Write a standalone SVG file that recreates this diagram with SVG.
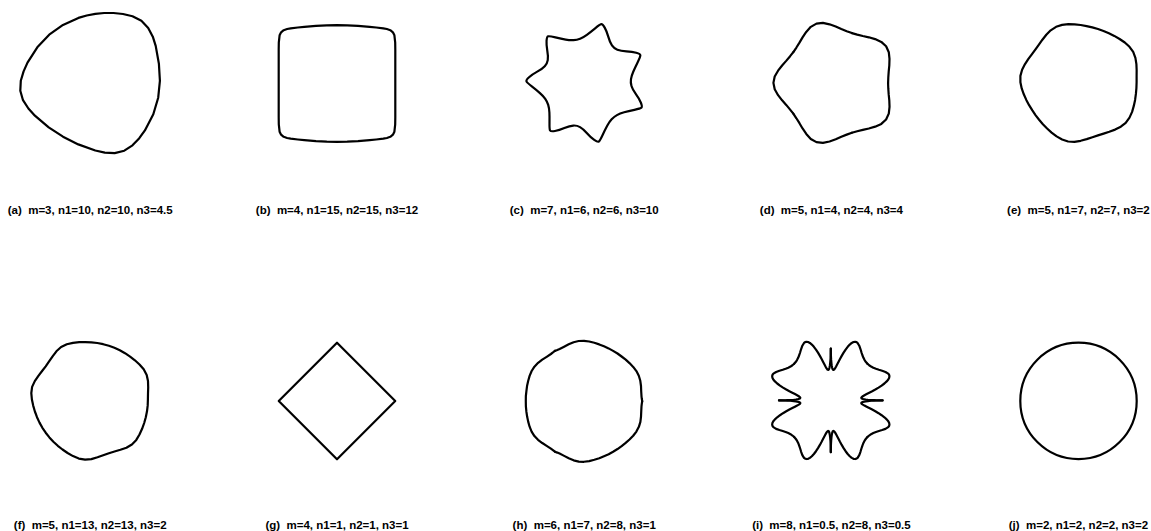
<svg xmlns="http://www.w3.org/2000/svg" width="1151" height="531" viewBox="0 0 1151 531">
<style>
.c{fill:none;stroke:#000;stroke-width:2.2;stroke-linejoin:round;stroke-linecap:round}
.l{font-family:"Liberation Sans",Arial,sans-serif;font-size:11.5px;font-weight:bold;fill:#000;text-anchor:middle;white-space:pre}
</style>
<defs>
<path id="dseg" class="c" d="M888.1,82.9 L888.3,77.4 888.7,71.6 889.3,65.5 889.5,58.9 888.8,52.2 886.1,46.3 881.3,41.9 875.1,39.1 868.8,37.3 862.8,36.0 857.2,34.6 851.9,33.1"/>
<path id="hseg" class="c" d="M642.25,401.3 L641.8,398.8 641.5,396.3 641.2,391.2 641.0,386.0 640.3,380.8 638.8,375.7 636.4,371.1 633.2,366.9 629.5,363.1 625.7,359.6 621.6,356.5 617.5,353.5 613.1,350.9 608.6,348.4 604.0,346.3 599.2,344.4 594.3,342.8 589.2,341.5 584.0,340.8 578.7,341.0 573.6,342.2 568.7,344.3 564.1,346.7 559.6,349.0 557.3,350.0 554.9,350.9"/>
<path id="iseg" class="c" d="M51.8,0 L45.58,-0.10 43.36,-0.19 40.51,-0.35 37.08,-0.65 34.90,-0.91 32.33,-1.41 30.82,-2.02 30.46,-2.67 30.92,-3.39 32.02,-4.22 33.68,-5.18 35.86,-6.32 38.46,-7.65 41.40,-9.18 44.53,-10.90 47.77,-12.80 50.82,-14.81 53.60,-16.90 55.87,-18.97 57.49,-20.92 58.40,-22.71 58.63,-24.29 58.27,-25.64 57.41,-26.77 54.67,-28.46 51.36,-29.66 48.10,-30.64 45.15,-31.62 42.53,-32.64 40.28,-33.80 38.35,-35.14 36.63,-36.63"/>
</defs>
<rect width="1151" height="531" fill="#fff"/>

<g id="shape-a">
<polygon class="c" points="159.9,80.8 158.9,63.8 155.7,45.9 152.8,36.7 148.2,27.9 141.4,20.8 132.5,16.3 123.0,14.0 113.5,13.0 104.2,13.0 95.3,13.9 86.7,15.5 78.4,17.9 63.0,24.9 49.2,34.7 37.3,47.3 27.5,62.6 23.6,71.4 20.8,80.8 20.3,90.7 23.0,100.2 28.4,108.5 34.9,115.7 48.7,127.4 63.0,136.7 78.3,144.4 95.3,150.5 104.8,152.6 114.7,153.1 124.3,150.7 132.5,145.3 139.3,138.2 144.9,130.4 153.3,114.3 158.2,97.7"/>
<text class="l" x="90.2" y="214">(a)  m=3, n1=10, n2=10, n3=4.5</text>
</g>

<g id="shape-b">
<polygon class="c" points="395.3,83.5 395.3,73.2 395.3,62.3 395.3,49.8 395.2,42.7 394.4,35.3 392.9,32.3 390.3,30.2 386.9,29.0 383.3,28.3 376.2,27.5 369.7,26.9 358.0,25.9 347.2,25.4 337,25.2 326.8,25.4 316.0,25.9 304.3,26.9 297.8,27.5 290.7,28.3 287.1,29.0 283.7,30.2 281.1,32.3 279.6,35.3 278.8,42.7 278.7,49.8 278.7,62.3 278.7,73.2 278.7,83.5 278.7,93.8 278.7,104.7 278.7,117.2 278.8,124.3 279.6,131.7 281.1,134.7 283.7,136.8 287.1,138.0 290.7,138.7 297.8,139.5 304.3,140.1 316.0,141.1 326.8,141.6 337,141.8 347.2,141.6 358.0,141.1 369.7,140.1 376.2,139.5 383.3,138.7 386.9,138.0 390.3,136.8 392.9,134.7 394.4,131.7 395.2,124.3 395.3,117.2 395.3,104.7 395.3,93.8"/>
<text class="l" x="337" y="214">(b)  m=4, n1=15, n2=15, n3=12</text>
</g>

<g id="shape-c">
<path class="c" d="M631.475,86.05 Q630.45,82.6 630.975,79.2 Q631.5,75.8 633.25,71.75 Q635.0,67.7 637.7,62.2 Q640.4,56.7 640.35,55.3 Q640.3,53.9 636.25,52.75 Q632.2,51.6 626.45,51.3 Q620.7,51.0 617.35,49.7 Q614.0,48.4 611.95,45.4 Q609.9,42.4 608.35,36.85 Q606.8,31.3 604.7,27.6 Q602.6,23.9 601.25,24.15 Q599.9,24.4 595.15,28.3 Q590.4,32.2 586.85,34.8 Q583.3,37.4 580.1,38.65 Q576.9,39.9 573.5,40.15 Q570.1,40.4 565.75,39.6 Q561.4,38.8 555.4,37.35 Q549.4,35.9 548.1,36.3 Q546.8,36.7 546.55,40.9 Q546.3,45.1 547.3,50.8 Q548.3,56.5 547.75,60.05 Q547.2,63.6 544.75,66.25 Q542.3,68.9 537.25,71.65 Q532.2,74.4 529.05,77.25 Q525.9,80.1 526.45,81.35 Q527.0,82.6 531.8,86.35 Q536.6,90.1 539.95,93.05 Q543.3,96.0 545.25,98.8 Q547.2,101.6 548.2,104.85 Q549.2,108.1 549.4,112.55 Q549.6,117.0 549.5,123.15 Q549.4,129.3 550.1,130.5 Q550.8,131.7 554.95,131.0 Q559.1,130.3 564.4,128.05 Q569.7,125.8 573.3,125.55 Q576.9,125.3 580.05,127.1 Q583.2,128.9 587.0,133.2 Q590.8,137.5 594.25,139.95 Q597.7,142.4 598.8,141.6 Q599.9,140.8 602.5,135.25 Q605.1,129.7 607.2,125.8 Q609.3,121.9 611.65,119.35 Q614.0,116.8 616.95,115.1 Q619.9,113.4 624.15,112.25 Q628.4,111.1 634.4,109.8 Q640.4,108.5 641.45,107.6 Q642.5,106.7 640.9,102.75 Q639.3,98.8 635.9,94.15 Q632.5,89.5 631.475,86.05 Z"/>
<text class="l" x="584.2" y="214">(c)  m=7, n1=6, n2=6, n3=10</text>
</g>

<g id="shape-d">
<use href="#dseg"/>
<use href="#dseg" transform="rotate(-72 835.7 82.9)"/>
<use href="#dseg" transform="rotate(-144 835.7 82.9)"/>
<use href="#dseg" transform="rotate(-216 835.7 82.9)"/>
<use href="#dseg" transform="rotate(-288 835.7 82.9)"/>
<text class="l" x="831.4" y="214">(d)  m=5, n1=4, n2=4, n3=4</text>
</g>

<g id="shape-e">
<polygon class="c" points="1136.6,82.2 1136.6,76.3 1136.65,70.3 1136.4,64.1 1135.4,57.8 1133.2,51.9 1129.5,46.8 1124.8,42.5 1119.6,39.0 1114.3,35.9 1108.9,33.3 1103.5,31.0 1098.0,29.0 1092.3,27.4 1086.6,26.1 1080.7,25.0 1074.6,24.4 1068.4,24.2 1062.1,24.9 1056.1,26.8 1050.7,30.3 1046.3,34.8 1042.4,39.7 1038.9,44.6 1035.5,49.3 1032.0,54.1 1028.4,58.9 1025.0,64.1 1022.1,69.7 1020.4,75.9 1020.4,82.2 1021.7,88.4 1023.8,94.3 1026.3,99.9 1029.1,105.2 1032.2,110.2 1035.5,115.1 1039.1,119.7 1042.9,124.2 1047.1,128.5 1051.6,132.6 1056.6,136.4 1062.1,139.5 1068.1,141.5 1074.4,141.8 1080.7,140.8 1086.7,139.1 1092.4,137.2 1098.0,135.4 1103.6,133.6 1109.3,131.7 1115.1,129.6 1120.8,126.7 1125.7,122.8 1129.5,117.6 1132.1,111.9 1133.8,105.9 1135.1,99.9 1135.9,93.9 1136.4,88.1"/>
<text class="l" x="1078.4" y="214">(e)  m=5, n1=7, n2=7, n3=2</text>
</g>

<g id="shape-f">
<polygon class="c" points="147.9,399.5 148.0,393.6 148.2,387.4 148.0,381.1 146.7,374.9 143.7,369.3 139.5,364.5 134.9,360.3 130.1,356.6 125.0,353.2 119.8,350.3 114.4,347.8 108.9,345.8 103.2,344.2 97.3,343.0 91.4,342.3 85.4,342.1 79.2,342.2 73.0,342.9 66.8,344.3 61.1,347.0 56.4,351.3 52.6,356.4 49.1,361.4 45.7,366.3 42.1,371.0 38.4,375.9 34.8,381.1 32.1,386.9 31.3,393.2 31.9,399.5 33.2,405.6 34.9,411.5 37.0,417.2 39.5,422.6 42.4,427.8 45.7,432.7 49.4,437.4 53.4,441.7 57.8,445.8 62.5,449.5 67.6,453.0 73.0,456.1 78.8,458.6 85.1,459.7 91.4,459.1 97.5,457.2 103.2,455.2 108.9,453.2 114.5,451.5 120.4,449.8 126.4,447.7 131.9,444.5 136.3,439.9 139.5,434.5 142.1,428.8 144.2,423.0 145.8,417.2 147.0,411.3 147.7,405.4"/>
<text class="l" x="90.2" y="528.5">(f)  m=5, n1=13, n2=13, n3=2</text>
</g>

<g id="shape-g">
<polygon class="c" points="337,342.75 395.25,401 337,459.25 278.75,401"/>
<text class="l" x="337" y="528.5">(g)  m=4, n1=1, n2=1, n3=1</text>
</g>

<g id="shape-h">
<use href="#hseg"/>
<use href="#hseg" transform="rotate(-120 584 401.3)"/>
<use href="#hseg" transform="rotate(-240 584 401.3)"/>
<text class="l" x="584.2" y="528.5">(h)  m=6, n1=7, n2=8, n3=1</text>
</g>

<g id="shape-i">
<g transform="translate(830.8,400.4)">
<use href="#iseg"/>
<use href="#iseg" transform="matrix(0,-1,-1,0,0,0)"/>
<use href="#iseg" transform="rotate(-90)"/>
<use href="#iseg" transform="rotate(-90) matrix(0,-1,-1,0,0,0)"/>
<use href="#iseg" transform="rotate(180)"/>
<use href="#iseg" transform="rotate(180) matrix(0,-1,-1,0,0,0)"/>
<use href="#iseg" transform="rotate(90)"/>
<use href="#iseg" transform="rotate(90) matrix(0,-1,-1,0,0,0)"/>
</g>
<text class="l" x="831.4" y="528.5">(i)  m=8, n1=0.5, n2=8, n3=0.5</text>
</g>

<g id="shape-j">
<circle class="c" cx="1078.5" cy="400.9" r="58.2"/>
<text class="l" x="1078.4" y="528.5">(j)  m=2, n1=2, n2=2, n3=2</text>
</g>
</svg>
